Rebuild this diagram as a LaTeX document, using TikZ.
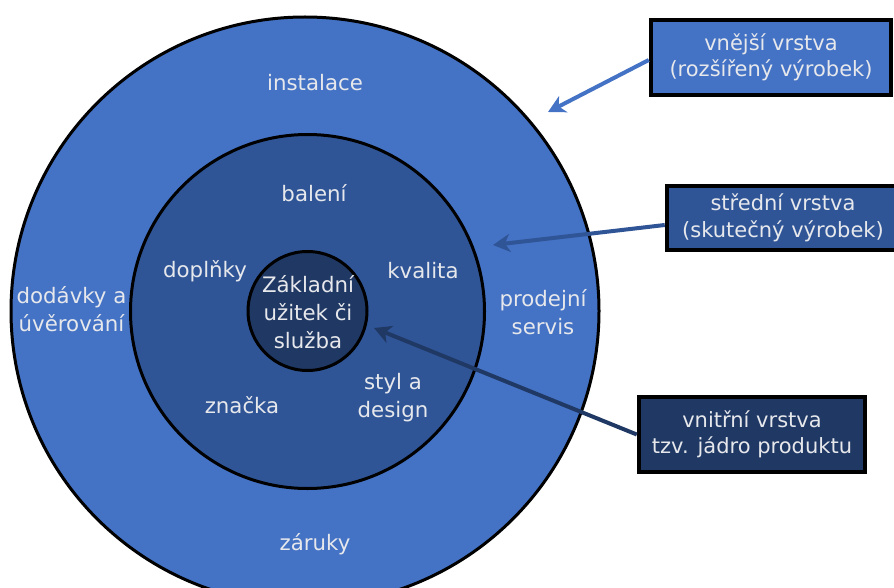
\documentclass[tikz,border=0pt]{standalone}
\usepackage{fontspec}
\setmainfont{DejaVu Sans}
\usetikzlibrary{arrows.meta}
\definecolor{outerblue}{HTML}{4472C4}
\definecolor{midblue}{HTML}{2F5597}
\definecolor{coreblue}{HTML}{203864}
\definecolor{txt}{HTML}{E6E8EC}
\begin{document}
\begin{tikzpicture}[x=1pt,y=-1pt,
  ring/.style={circle, draw=black, line width=3pt, inner sep=0pt},
  lbl/.style={text=txt, font=\fontsize{21.3}{28}\selectfont, align=center, inner sep=0pt},
  infobox/.style={draw=black, line width=4.5pt, inner sep=0pt, text=txt,
    font=\fontsize{21}{26.5}\selectfont, align=center},
  arr/.style={line width=4pt, -{Stealth[length=17pt,width=18pt,inset=5pt]}}]
\useasboundingbox (0,0) rectangle (894,588);
\begin{scope}
\clip (0,0) rectangle (894,588);
% rings
\node[ring, fill=outerblue, minimum size=588pt] (outer) at (305,311) {};
\node[ring, fill=midblue, minimum size=354pt] (middle) at (307.5,311.5) {};
\node[ring, fill=coreblue, minimum size=119pt] (core) at (307.5,311) {};
% labels
\node[lbl, anchor=base] (instalace) at (315,91) {instalace};
\node[lbl, anchor=base] (baleni) at (314,201.5) {balení};
\node[lbl, anchor=base] (doplnky) at (205,277.5) {doplňky};
\node[lbl, anchor=base] (kvalita) at (423,278) {kvalita};
\node[lbl] (dodavky) at (71.5,309.5) {dodávky a\\úvěrování};
\node[lbl] (prodejni) at (543,312.5) {prodejní\\servis};
\node[lbl] (zakladni) at (308,312.5) {Základní\\užitek či\\služba};
\node[lbl] (styl) at (393,398) {styl a\\design};
\node[lbl, anchor=base] (znacka) at (242,413) {značka};
\node[lbl, anchor=base] (zaruky) at (315,550) {záruky};
% arrow tips
\coordinate (t1) at (548,112);
\coordinate (t2) at (493,245);
\coordinate (t3) at (374,328);
% boxes
\node[infobox, fill=outerblue, minimum width=240pt, minimum height=75pt] (b1) at (771,57.5) {vnější vrstva\\(rozšířený výrobek)};
\node[infobox, fill=midblue, minimum width=232pt, minimum height=64pt] (b2) at (783,218) {střední vrstva\\(skutečný výrobek)};
\node[infobox, fill=coreblue, minimum width=226pt, minimum height=75pt] (b3) at (752,434.5) {vnitřní vrstva\\tzv. jádro produktu};
% arrows
\draw[arr, draw=outerblue] ([yshift=-2.5pt]b1.west) -- (t1);
\draw[arr, draw=midblue] ([yshift=-7pt]b2.west) -- (t2);
\draw[arr, draw=coreblue] (b3.west) -- (t3);
\end{scope}
\end{tikzpicture}
\end{document}
